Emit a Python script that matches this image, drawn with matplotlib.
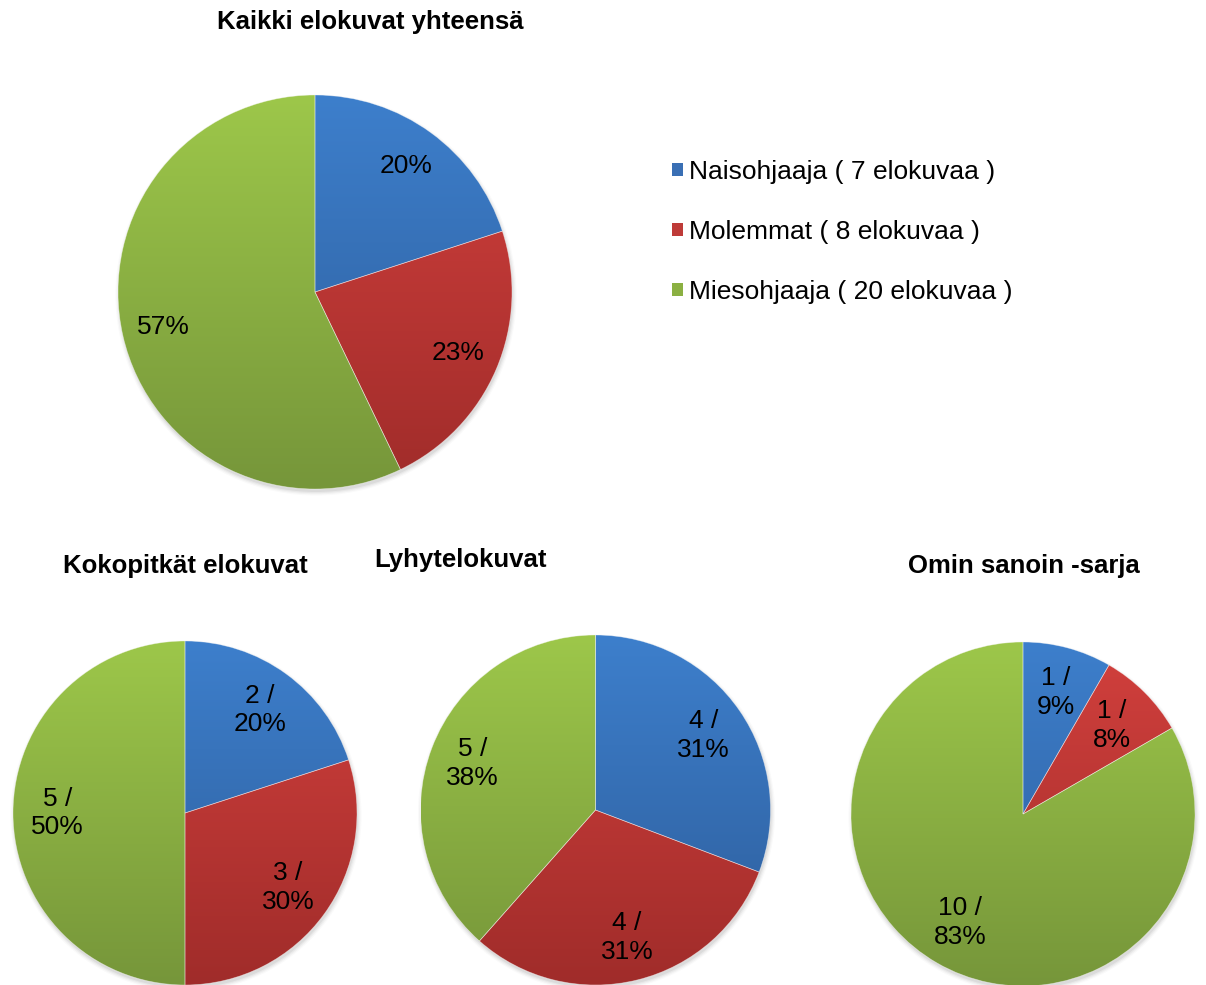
import matplotlib
matplotlib.use("Agg")
import matplotlib.pyplot as plt
import numpy as np
from matplotlib.colors import LinearSegmentedColormap
from matplotlib.patches import Patch, Circle

plt.rcParams['font.family'] = ['Liberation Sans', 'DejaVu Sans']

# ---- data ----
categories = ["Naisohjaaja", "Molemmat", "Miesohjaaja"]
legend_labels = ["Naisohjaaja ( 7 elokuvaa )", "Molemmat ( 8 elokuvaa )",
                 "Miesohjaaja ( 20 elokuvaa )"]

total_title = "Kaikki elokuvat yhteensä"
total_values = [7, 8, 20]
total_labels = ["20%", "23%", "57%"]

koko_title = "Kokopitkät elokuvat"
koko_values = [2, 3, 5]
koko_labels = ["2 /\n20%", "3 /\n30%", "5 /\n50%"]

lyhyt_title = "Lyhytelokuvat"
lyhyt_values = [4, 4, 5]
lyhyt_labels = ["4 /\n31%", "4 /\n31%", "5 /\n38%"]

omin_title = "Omin sanoin -sarja"
omin_values = [1, 1, 10]
omin_labels = ["1 /\n9%", "1 /\n8%", "10 /\n83%"]

# ---- style ----
top_colors = ["#3d7fcc", "#d2403d", "#9dc74a"]
bot_colors = ["#2d5c99", "#a02c2a", "#76963a"]
mid_colors = ["#3a6fb4", "#be3b38", "#8bb042"]

W, H = 1206, 985
fig = plt.figure(figsize=(W / 100, H / 100), dpi=100)
ax = fig.add_axes([0, 0, 1, 1])
ax.set_xlim(0, W)
ax.set_ylim(0, H)
ax.axis('off')

grad = np.linspace(0, 1, 256).reshape(-1, 1)


def draw_pie(values, labels, cx, cy_px, r, dist, fs=19):
    cy = H - cy_px
    # soft shadow
    for i, a in enumerate([0.05, 0.04, 0.03, 0.02]):
        ax.add_patch(Circle((cx + 1, cy - 3), r + i * 1.2, facecolor='black',
                            edgecolor='none', alpha=a, zorder=1))
    wedges, _ = ax.pie(values, center=(cx, cy), radius=r, startangle=90,
                       counterclock=False, frame=True,
                       wedgeprops=dict(edgecolor=(1, 1, 1, 0.45), linewidth=0.5))
    for k, w in enumerate(wedges):
        w.set_facecolor('none')
        w.set_zorder(3)
        cmap = LinearSegmentedColormap.from_list('g', [bot_colors[k], top_colors[k]])
        im = ax.imshow(grad, extent=[cx - r, cx + r, cy - r, cy + r], origin='lower',
                       cmap=cmap, aspect='auto', zorder=2, interpolation='bilinear')
        im.set_clip_path(w)
        ang = np.deg2rad((w.theta1 + w.theta2) / 2)
        ax.text(cx + dist * r * np.cos(ang), cy + dist * r * np.sin(ang), labels[k],
                ha='center', va='center', fontsize=fs, color='black', zorder=5,
                linespacing=1.25)
    ax.set_xlim(0, W)
    ax.set_ylim(0, H)


draw_pie(total_values, total_labels, 315, 292, 197, 0.79)
draw_pie(koko_values, koko_labels, 185, 813, 172, 0.74)
draw_pie(lyhyt_values, lyhyt_labels, 595.5, 810, 175, 0.75)
draw_pie(omin_values, omin_labels, 1023, 814, 172, 0.73)
ax.set_aspect('auto')
ax.set_xlim(0, W)
ax.set_ylim(0, H)

title_kw = dict(fontsize=18.5, fontweight='bold', ha='center', va='center', color='black')
ax.text(370, H - 22, total_title, **title_kw)
ax.text(185, H - 566, koko_title, **title_kw)
ax.text(460, H - 560, lyhyt_title, **title_kw)
ax.text(1024, H - 566, omin_title, **title_kw)

handles = [Patch(facecolor=mid_colors[k], edgecolor='none', label=legend_labels[k])
           for k in range(3)]
ax.legend(handles=handles, loc='upper left', bbox_to_anchor=(672 / W, 1 - 160 / H),
          bbox_transform=fig.transFigure, frameon=False, fontsize=19,
          handlelength=0.4, handleheight=0.4, handletextpad=0.26,
          labelspacing=1.36, borderpad=0, borderaxespad=0)

fig.savefig("out.png", dpi=100)
